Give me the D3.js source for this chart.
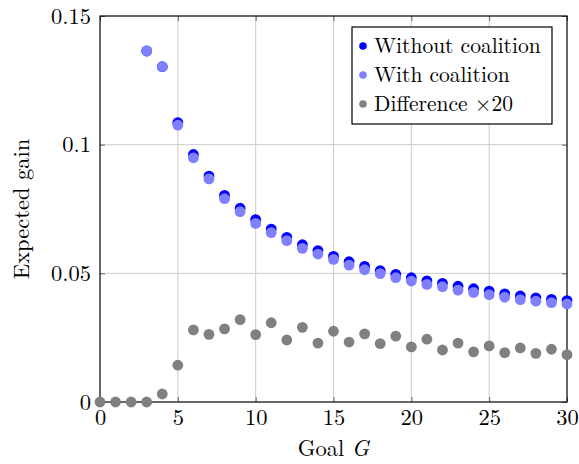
<!DOCTYPE html>
<html>
<head>
<meta charset="utf-8">
<script src="https://cdn.jsdelivr.net/npm/d3@7"></script>
<style>
  html, body { margin: 0; padding: 0; background: #fff; }
</style>
</head>
<body>
<svg id="chart" width="579" height="464"></svg>
<script>
// Goal values and expected gains
const goalsBlue = d3.range(3, 31);
const withoutCoalition = [
  0.1364, 0.1303, 0.1086, 0.0962, 0.0878, 0.0803, 0.0753, 0.0709,
  0.0672, 0.0640, 0.0611, 0.0588, 0.0566, 0.0545, 0.0527, 0.0510,
  0.0496, 0.0483, 0.0471, 0.0461, 0.0450, 0.0440, 0.0431, 0.0420,
  0.0412, 0.0405, 0.0399, 0.0394
];
const withCoalition = [
  0.1364, 0.1303, 0.1076, 0.0949, 0.0867, 0.0790, 0.0740, 0.0694,
  0.0658, 0.0627, 0.0597, 0.0575, 0.0554, 0.0532, 0.0514, 0.0499,
  0.0483, 0.0470, 0.0457, 0.0448, 0.0435, 0.0426, 0.0417, 0.0407,
  0.0398, 0.0392, 0.0386, 0.0381
];
const goalsDiff = d3.range(0, 31);
const differenceX20 = [
  0, 0, 0, 0, 0.0031, 0.0143, 0.0280, 0.0263, 0.0284, 0.0320, 0.0262,
  0.0308, 0.0241, 0.0290, 0.0229, 0.0275, 0.0233, 0.0265, 0.0227, 0.0256,
  0.0214, 0.0244, 0.0202, 0.0229, 0.0195, 0.0218, 0.0192, 0.0210, 0.0189,
  0.0205, 0.0184
];

const xTicks = [0, 5, 10, 15, 20, 25, 30];
const xTickLabels = ["0", "5", "10", "15", "20", "25", "30"];
const yTicks = [0, 0.05, 0.1, 0.15];
const yTickLabels = ["0", "0.05", "0.1", "0.15"];

const seriesNames = ["Without coalition", "With coalition", "Difference \u00d720"];
const seriesColors = ["#0000ff", "#8080ff", "#808080"];

const SERIF = '"Latin Modern Roman"';

const svg = d3.select("#chart");
const plotL = 100, plotR = 567, plotT = 16, plotB = 402;
const x = d3.scaleLinear().domain([0, 30]).range([plotL, plotR]);
const y = d3.scaleLinear().domain([0, 0.15]).range([plotB, plotT]);
const FS = 22.5;

// grid
const grid = svg.append("g");
grid.selectAll("line.gx").data(xTicks.slice(1, -1)).join("line")
  .attr("x1", d => x(d)).attr("x2", d => x(d))
  .attr("y1", plotT).attr("y2", plotB)
  .attr("stroke", "#cccccc").attr("stroke-width", 1);
grid.selectAll("line.gy").data(yTicks.slice(1, -1)).join("line")
  .attr("x1", plotL).attr("x2", plotR)
  .attr("y1", d => y(d)).attr("y2", d => y(d))
  .attr("stroke", "#cccccc").attr("stroke-width", 1);

// inward ticks on all four sides
function tickAxis(axis, tx, ty) {
  const g = svg.append("g").attr("transform", `translate(${tx},${ty})`).call(axis);
  g.select(".domain").remove();
  g.selectAll("text").remove();
  g.selectAll("line").attr("stroke", "#666").attr("stroke-width", 1);
}
tickAxis(d3.axisBottom(x).tickValues(xTicks).tickSize(-5), 0, plotB);
tickAxis(d3.axisTop(x).tickValues(xTicks).tickSize(-5), 0, plotT);
tickAxis(d3.axisLeft(y).tickValues(yTicks).tickSize(-5), plotL, 0);
tickAxis(d3.axisRight(y).tickValues(yTicks).tickSize(-5), plotR, 0);

// frame
svg.append("rect")
  .attr("x", plotL).attr("y", plotT)
  .attr("width", plotR - plotL).attr("height", plotB - plotT)
  .attr("fill", "none").attr("stroke", "#000").attr("stroke-width", 1.2);

// tick labels
const xAx = svg.append("g").attr("transform", `translate(0,${plotB})`)
  .call(d3.axisBottom(x).tickValues(xTicks).tickSize(0).tickPadding(7)
    .tickFormat((d, i) => xTickLabels[i]));
xAx.select(".domain").remove();
xAx.selectAll("text").attr("font-size", FS).style("font-family", SERIF).attr("fill", "#000");

const yAx = svg.append("g").attr("transform", `translate(${plotL},0)`)
  .call(d3.axisLeft(y).tickValues(yTicks).tickSize(0).tickPadding(9)
    .tickFormat((d, i) => yTickLabels[i]));
yAx.select(".domain").remove();
yAx.selectAll("text").attr("font-size", FS).style("font-family", SERIF).attr("fill", "#000");

// axis titles
const xt = svg.append("text")
  .attr("x", (plotL + plotR) / 2).attr("y", 456)
  .attr("text-anchor", "middle").attr("font-size", FS).style("font-family", SERIF);
xt.append("tspan").text("Goal ");
xt.append("tspan").attr("font-style", "italic").text("G");

svg.append("text")
  .attr("transform", `translate(29,${(plotT + plotB) / 2}) rotate(-90)`)
  .attr("text-anchor", "middle").attr("font-size", FS).style("font-family", SERIF)
  .text("Expected gain");

// markers
const R = 5.4;
svg.append("g").selectAll("circle").data(goalsBlue).join("circle")
  .attr("cx", d => x(d)).attr("cy", (d, i) => y(withoutCoalition[i]))
  .attr("r", R).attr("fill", seriesColors[0]);
svg.append("g").selectAll("circle").data(goalsBlue).join("circle")
  .attr("cx", d => x(d)).attr("cy", (d, i) => y(withCoalition[i]))
  .attr("r", R).attr("fill", seriesColors[1]);
svg.append("g").selectAll("circle").data(goalsDiff).join("circle")
  .attr("cx", d => x(d)).attr("cy", (d, i) => y(differenceX20[i]))
  .attr("r", R).attr("fill", seriesColors[2]);

// legend
const lg = svg.append("g");
lg.append("rect")
  .attr("x", 352).attr("y", 27).attr("width", 200).attr("height", 97)
  .attr("fill", "#fff").attr("stroke", "#000").attr("stroke-width", 1.2);
seriesNames.forEach((name, i) => {
  const cy = 46 + i * 29;
  lg.append("circle").attr("cx", 363).attr("cy", cy).attr("r", 3.8).attr("fill", seriesColors[i]);
  lg.append("text").attr("x", 374).attr("y", cy + 7)
    .attr("font-size", 21.5).style("font-family", SERIF).text(name);
});
</script>
</body>
</html>
